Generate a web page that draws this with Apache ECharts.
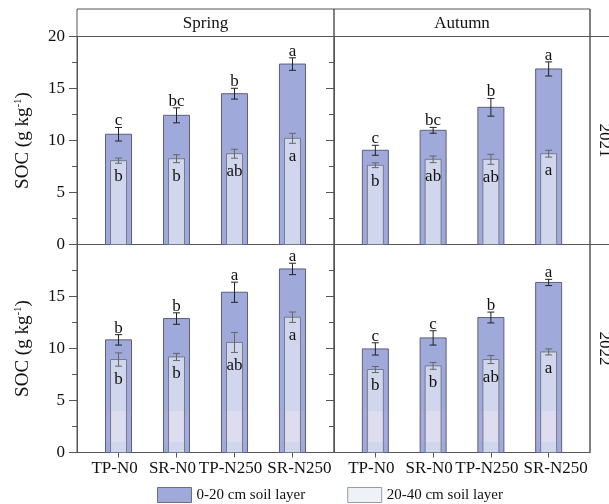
<!DOCTYPE html>
<html>
<head>
<meta charset="utf-8">
<script src="https://cdn.jsdelivr.net/npm/echarts@6/dist/echarts.min.js"></script>
<style>
html, body { margin: 0; padding: 0; background: #fff; }
#chart { width: 609px; height: 504px; }
</style>
</head>
<body>
<div id="chart"></div>
<script>
var treatments = ['TP-N0', 'SR-N0', 'TP-N250', 'SR-N250'];
var seasons = ['Spring', 'Autumn'];
var years = ['2021', '2022'];
var layerNames = ['0-20 cm soil layer', '20-40 cm soil layer'];

// 2021 Spring
var top2021Spring = [10.6, 12.42, 14.5, 17.35];
var topSe2021Spring = [0.65, 0.72, 0.52, 0.6];
var topLet2021Spring = ['c', 'bc', 'b', 'a'];
var sub2021Spring = [8.06, 8.25, 8.73, 10.21];
var subSe2021Spring = [0.25, 0.38, 0.43, 0.48];
var subLet2021Spring = ['b', 'b', 'ab', 'a'];

// 2021 Autumn
var top2021Autumn = [9.06, 10.98, 13.19, 16.88];
var topSe2021Autumn = [0.48, 0.28, 0.85, 0.68];
var topLet2021Autumn = ['c', 'bc', 'b', 'a'];
var sub2021Autumn = [7.62, 8.19, 8.19, 8.73];
var subSe2021Autumn = [0.23, 0.32, 0.48, 0.33];
var subLet2021Autumn = ['b', 'ab', 'ab', 'a'];

// 2022 Spring
var top2022Spring = [10.83, 12.88, 15.41, 17.65];
var topSe2022Spring = [0.5, 0.55, 0.97, 0.55];
var topLet2022Spring = ['b', 'b', 'a', 'a'];
var sub2022Spring = [8.94, 9.19, 10.58, 13.01];
var subSe2022Spring = [0.64, 0.34, 0.96, 0.5];
var subLet2022Spring = ['b', 'b', 'ab', 'a'];

// 2022 Autumn
var top2022Autumn = [9.96, 11.02, 12.98, 16.35];
var topSe2022Autumn = [0.59, 0.69, 0.52, 0.3];
var topLet2022Autumn = ['c', 'c', 'b', 'a'];
var sub2022Autumn = [7.98, 8.33, 8.94, 9.67];
var subSe2022Autumn = [0.29, 0.33, 0.39, 0.29];
var subLet2022Autumn = ['b', 'b', 'ab', 'a'];

// lighter band visible in the 2022 bars
var band2022 = [1, 4];

var yTicks = [0, 5, 10, 15, 20];

var FONT = 'Liberation Serif';
var INK = '#111';
var FRAME = '#555';

var panels = [
  { top: top2021Spring, topSe: topSe2021Spring, topLet: topLet2021Spring, sub: sub2021Spring, subSe: subSe2021Spring, subLet: subLet2021Spring, band: null },
  { top: top2021Autumn, topSe: topSe2021Autumn, topLet: topLet2021Autumn, sub: sub2021Autumn, subSe: subSe2021Autumn, subLet: subLet2021Autumn, band: null },
  { top: top2022Spring, topSe: topSe2022Spring, topLet: topLet2022Spring, sub: sub2022Spring, subSe: subSe2022Spring, subLet: subLet2022Spring, band: band2022 },
  { top: top2022Autumn, topSe: topSe2022Autumn, topLet: topLet2022Autumn, sub: sub2022Autumn, subSe: subSe2022Autumn, subLet: subLet2022Autumn, band: band2022 }
];

var layers = [
  { width: 26, fill: '#a0aada', stroke: '#5c5f80', err: '#222', overlay: 'rgba(200,170,240,0.18)', above: true },
  { width: 16, fill: '#d0d6ec', stroke: '#777a8c', err: '#666', overlay: 'rgba(245,235,245,0.35)', above: false }
];

// layout
var L = 77, M = 334, R = 590, T = 9, S = 36.5, H = 208;
var gridBoxes = [
  { left: L, top: S, width: M - L, height: H },
  { left: M, top: S, width: R - M, height: H },
  { left: L, top: S + H, width: M - L, height: H },
  { left: M, top: S + H, width: R - M, height: H }
];
var X_MIN = -0.716, X_MAX = 3.716;

function makeRender(layer, letters, band) {
  return function (params, api) {
    var i = api.value(0), m = api.value(1), se = api.value(2);
    var base = api.coord([i, 0]);
    var tp = api.coord([i, m]);
    var hi = api.coord([i, m + se]);
    var lo = api.coord([i, m - se]);
    var w = layer.width, cap = 3.5;
    var kids = [{
      type: 'rect',
      shape: { x: base[0] - w / 2, y: tp[1], width: w, height: base[1] - tp[1] },
      style: { fill: layer.fill, stroke: layer.stroke, lineWidth: 1 }
    }];
    if (band) {
      var b0 = api.coord([i, band[0]]), b1 = api.coord([i, band[1]]);
      kids.push({
        type: 'rect',
        shape: { x: base[0] - w / 2 + 1, y: b1[1], width: w - 2, height: b0[1] - b1[1] },
        style: { fill: layer.overlay }
      });
    }
    kids.push(
      { type: 'line', shape: { x1: hi[0], y1: hi[1], x2: lo[0], y2: lo[1] }, style: { stroke: layer.err, lineWidth: 1 } },
      { type: 'line', shape: { x1: hi[0] - cap, y1: hi[1], x2: hi[0] + cap, y2: hi[1] }, style: { stroke: layer.err, lineWidth: 1 } },
      { type: 'line', shape: { x1: lo[0] - cap, y1: lo[1], x2: lo[0] + cap, y2: lo[1] }, style: { stroke: layer.err, lineWidth: 1 } }
    );
    kids.push({
      type: 'text',
      x: tp[0],
      y: layer.above ? hi[1] + 2 : lo[1] + 5,
      style: {
        text: letters[params.dataIndex], align: 'center', verticalAlign: layer.above ? 'bottom' : 'top',
        fontFamily: FONT, fontSize: 17, fill: INK
      }
    });
    return { type: 'group', children: kids };
  };
}

function xLabel(show, values) {
  return {
    show: show, customValues: values, margin: 8,
    showMinLabel: true, showMaxLabel: true,
    // last name sits a little to the right, the others a little left
    formatter: function (v) {
      var i = Math.round(v);
      return (i === 3 ? '{r|' : '{l|') + treatments[i] + '}';
    },
    rich: {
      l: { fontFamily: FONT, fontSize: 17, color: INK, padding: [0, 8, 0, 0] },
      r: { fontFamily: FONT, fontSize: 17, color: INK, padding: [0, 0, 0, 14] }
    },
    fontFamily: FONT, fontSize: 17, color: INK
  };
}

var grids = [], xAxes = [], yAxes = [], series = [];
gridBoxes.forEach(function (g, p) {
  grids.push({ left: g.left, top: g.top, width: g.width, height: g.height, show: true, borderColor: FRAME, borderWidth: 1, containLabel: false });
  var bottomRow = p >= 2, leftCol = p % 2 === 0;
  var xi = xAxes.length;
  xAxes.push({
    gridIndex: p, type: 'value', min: X_MIN, max: X_MAX, position: 'bottom',
    axisLine: { show: true, onZero: false, lineStyle: { color: FRAME } },
    splitLine: { show: false },
    axisTick: { show: bottomRow, customValues: [0, 1, 2, 3], length: 5, lineStyle: { color: FRAME } },
    axisLabel: xLabel(bottomRow, [0, 2])
  });
  if (bottomRow) {
    // second label row, so the tightly packed names are not thinned out
    xAxes.push({
      gridIndex: p, type: 'value', min: X_MIN, max: X_MAX, position: 'bottom',
      axisLine: { show: false, onZero: false },
      splitLine: { show: false },
      axisTick: { show: false },
      axisLabel: xLabel(true, [1, 3])
    });
  }
  yAxes.push({
    gridIndex: p, type: 'value', min: yTicks[0], max: yTicks[yTicks.length - 1], interval: 5,
    axisLine: { show: true, onZero: false, lineStyle: { color: FRAME } },
    splitLine: { show: false },
    axisTick: { length: 8, lineStyle: { color: FRAME } },
    minorTick: { show: true, splitNumber: 2, length: 5, lineStyle: { color: FRAME } },
    axisLabel: { show: leftCol, showMinLabel: true, showMaxLabel: !bottomRow, margin: 12, fontFamily: FONT, fontSize: 17, color: INK },
    name: leftCol ? '{a|SOC (g kg}{s|-1}{a|)}' : '',
    nameLocation: 'middle', nameRotate: 90, nameGap: 44,
    nameTextStyle: {
      color: INK, fontFamily: FONT,
      rich: {
        a: { fontFamily: FONT, fontSize: 19, color: INK },
        s: { fontFamily: FONT, fontSize: 11, color: INK, padding: [0, 0, 9, 0] }
      }
    }
  });
  var pd = panels[p];
  [[pd.top, pd.topSe, pd.topLet], [pd.sub, pd.subSe, pd.subLet]].forEach(function (set, l) {
    series.push({
      type: 'custom', name: layerNames[l], xAxisIndex: xi, yAxisIndex: p,
      clip: false, z: 2 + l,
      itemStyle: { color: layers[l].fill },
      renderItem: makeRender(layers[l], set[2], pd.band),
      data: treatments.map(function (t, i) { return [i, set[0][i], set[1][i]]; })
    });
  });
});

var graphics = [];
seasons.forEach(function (s, k) {
  var x0 = k === 0 ? L : M, x1 = k === 0 ? M : R;
  graphics.push({ type: 'rect', shape: { x: x0, y: T, width: x1 - x0, height: S - T }, style: { fill: 'none', stroke: FRAME, lineWidth: 1 } });
  graphics.push({ type: 'text', x: (x0 + x1) / 2, y: (T + S) / 2 + 1, style: { text: s, align: 'center', verticalAlign: 'middle', fontFamily: FONT, fontSize: 17, fill: INK } });
});
graphics.push({ type: 'line', shape: { x1: R, y1: T, x2: R, y2: S + 2 * H }, style: { stroke: FRAME, lineWidth: 1 } });
years.forEach(function (y, k) {
  var y0 = S + k * H;
  graphics.push({ type: 'line', shape: { x1: R, y1: y0, x2: 609, y2: y0 }, style: { stroke: FRAME, lineWidth: 1 } });
  graphics.push({ type: 'text', x: 604, y: y0 + H / 2, rotation: -Math.PI / 2, style: { text: y, align: 'center', verticalAlign: 'middle', fontFamily: FONT, fontSize: 17, fill: INK } });
});

var chart = echarts.init(document.getElementById('chart'), null, { renderer: 'canvas' });
chart.setOption({
  animation: false,
  backgroundColor: '#fff',
  grid: grids,
  xAxis: xAxes,
  yAxis: yAxes,
  legend: {
    left: 152, top: 482, itemWidth: 34, itemHeight: 15, itemGap: 42, selectedMode: false,
    textStyle: { fontFamily: FONT, fontSize: 15, color: INK },
    data: [
      { name: layerNames[0], icon: 'rect', itemStyle: { color: '#a0aada', borderColor: '#6a6d8a', borderWidth: 1 } },
      { name: layerNames[1], icon: 'rect', itemStyle: { color: '#eef2f7', borderColor: '#9a9aa4', borderWidth: 1 } }
    ]
  },
  graphic: graphics,
  series: series
});
window.addEventListener('resize', chart.resize);
</script>
</body>
</html>
